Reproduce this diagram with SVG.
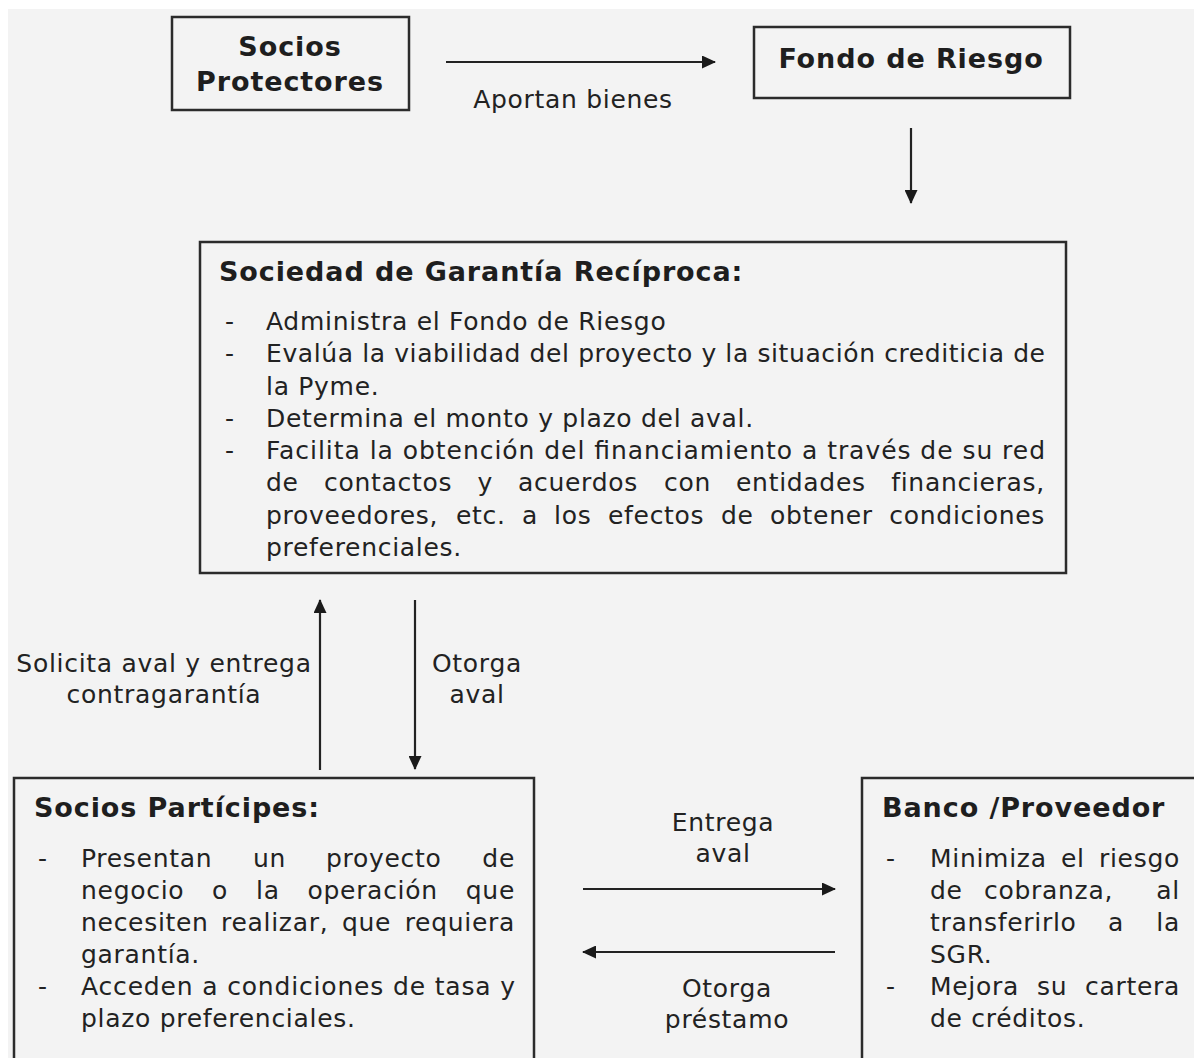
<svg xmlns="http://www.w3.org/2000/svg" width="1194" height="1058" viewBox="0 0 1194 1058">
<defs>
<style>
.box{fill:none;stroke:#2b2b2b;stroke-width:2.5}
.t{font-family:"DejaVu Sans",Verdana,sans-serif;font-size:25px;letter-spacing:0.7px;fill:#222}
.b{font-family:"DejaVu Sans",Verdana,sans-serif;font-size:27px;letter-spacing:0.9px;font-weight:bold;fill:#1e1e1e}
.m{text-anchor:middle}
.e{text-anchor:end}
.j{letter-spacing:0}
.ln{stroke:#222;stroke-width:2.2;fill:none}
</style>
<marker id="ah" viewBox="0 0 14 13" refX="13" refY="6.5" markerWidth="14" markerHeight="13" markerUnits="userSpaceOnUse" orient="auto">
<path d="M0,0 L14,6.5 L0,13 z" fill="#1a1a1a"/>
</marker>
</defs>
<rect x="0" y="0" width="1194" height="1058" fill="#ffffff"/>
<rect x="8" y="9" width="1186" height="1049" fill="#f3f3f3"/>

<g id="socios-protectores">
<rect class="box" x="172" y="17" width="237" height="93"/>
<text class="b m" x="290" y="56">Socios</text>
<text class="b m" x="290" y="91">Protectores</text>
</g>

<g id="fondo-de-riesgo">
<rect class="box" x="754" y="27" width="316" height="71"/>
<text class="b m" x="911" y="68">Fondo de Riesgo</text>
</g>

<g id="sgr">
<rect class="box" x="200" y="242" width="866" height="331"/>
<text class="b" x="219" y="281">Sociedad de Garantía Recíproca:</text>
<g class="t">
<text x="225" y="330">-</text>
<text x="266" y="330">Administra el Fondo de Riesgo</text>
<text x="225" y="362">-</text>
<text class="j" x="266" y="362" textLength="779" lengthAdjust="spacing">Evalúa la viabilidad del proyecto y la situación crediticia de</text>
<text x="266" y="395">la Pyme.</text>
<text x="225" y="427">-</text>
<text x="266" y="427">Determina el monto y plazo del aval.</text>
<text x="225" y="459">-</text>
<text class="j" x="266" y="459" textLength="779" lengthAdjust="spacing">Facilita la obtención del financiamiento a través de su red</text>
<text y="491"><tspan x="266">de</tspan><tspan x="324">contactos</tspan><tspan x="477.5">y</tspan><tspan x="518">acuerdos</tspan><tspan x="664">con</tspan><tspan x="736">entidades</tspan></text>
<text class="e" x="1045" y="491">financieras,</text>
<text y="524"><tspan x="266">proveedores,</tspan><tspan x="456">etc.</tspan><tspan x="522">a</tspan><tspan x="554">los</tspan><tspan x="608">efectos</tspan><tspan x="721">de</tspan><tspan x="770">obtener</tspan></text>
<text class="e" x="1045" y="524">condiciones</text>
<text x="266" y="556">preferenciales.</text>
</g>
</g>

<g id="socios-participes">
<rect class="box" x="14" y="778" width="520" height="300"/>
<text class="b" x="34" y="817">Socios Partícipes:</text>
<g class="t">
<text x="38" y="867">-</text>
<text y="867"><tspan x="81">Presentan</tspan><tspan x="253">un</tspan><tspan x="326">proyecto</tspan></text>
<text class="e" x="515" y="867">de</text>
<text y="899"><tspan x="81">negocio</tspan><tspan x="212">o</tspan><tspan x="256">la</tspan><tspan x="307.5">operación</tspan></text>
<text class="e" x="515" y="899">que</text>
<text y="931"><tspan x="81">necesiten</tspan><tspan x="221">realizar,</tspan><tspan x="342">que</tspan></text>
<text class="e" x="515" y="931">requiera</text>
<text x="81" y="963">garantía.</text>
<text x="38" y="995">-</text>
<text class="j" x="81" y="995" textLength="434" lengthAdjust="spacing">Acceden a condiciones de tasa y</text>
<text x="81" y="1027">plazo preferenciales.</text>
</g>
</g>

<g id="banco-proveedor">
<rect class="box" x="862" y="778" width="360" height="300"/>
<text class="b" x="882" y="817">Banco /Proveedor</text>
<g class="t">
<text x="886" y="867">-</text>
<text y="867"><tspan x="930">Minimiza</tspan><tspan x="1061">el</tspan></text>
<text class="e" x="1180" y="867">riesgo</text>
<text y="899"><tspan x="930">de</tspan><tspan x="984">cobranza,</tspan></text>
<text class="e" x="1180" y="899">al</text>
<text y="931"><tspan x="930">transferirlo</tspan><tspan x="1108">a</tspan></text>
<text class="e" x="1180" y="931">la</text>
<text x="930" y="963">SGR.</text>
<text x="886" y="995">-</text>
<text y="995"><tspan x="930">Mejora</tspan><tspan x="1037">su</tspan></text>
<text class="e" x="1180" y="995">cartera</text>
<text x="930" y="1027">de créditos.</text>
</g>
</g>

<g id="connectors">
<line class="ln" x1="446" y1="62" x2="715" y2="62" marker-end="url(#ah)"/>
<line class="ln" x1="911" y1="128" x2="911" y2="203" marker-end="url(#ah)"/>
<line class="ln" x1="320" y1="770" x2="320" y2="600" marker-end="url(#ah)"/>
<line class="ln" x1="415" y1="600" x2="415" y2="769" marker-end="url(#ah)"/>
<line class="ln" x1="583" y1="889" x2="835" y2="889" marker-end="url(#ah)"/>
<line class="ln" x1="835" y1="952" x2="583" y2="952" marker-end="url(#ah)"/>
</g>

<g id="labels" class="t">
<text class="m" x="573" y="108">Aportan bienes</text>
<text class="m" x="164" y="672">Solicita aval y entrega</text>
<text class="m" x="164" y="703">contragarantía</text>
<text class="m" x="477" y="672">Otorga</text>
<text class="m" x="477" y="703">aval</text>
<text class="m" x="723" y="831">Entrega</text>
<text class="m" x="723" y="862">aval</text>
<text class="m" x="727" y="997">Otorga</text>
<text class="m" x="727" y="1028">préstamo</text>
</g>
</svg>
